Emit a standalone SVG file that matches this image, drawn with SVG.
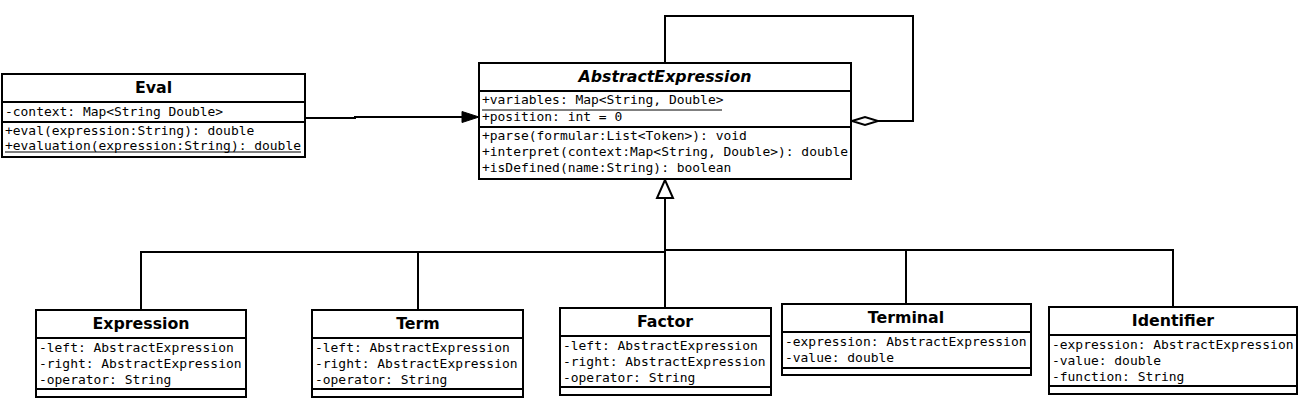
<svg xmlns="http://www.w3.org/2000/svg" width="1299" height="400" viewBox="0 0 1299 400">
<style>
.box{fill:#fff;stroke:#000;stroke-width:2}
.sep{stroke:#000;stroke-width:2}
.ul{stroke:#000;stroke-width:1}
.t{font-family:"DejaVu Sans",sans-serif;font-weight:bold;font-size:15.8px;text-anchor:middle;fill:#000}
.ti{font-style:italic}
.m{font-family:"DejaVu Sans Mono","Liberation Mono",monospace;font-size:12.95px;fill:#000}
.c{fill:none;stroke:#000;stroke-width:2}
</style>
<rect width="1299" height="400" fill="#fff"/>
<g id="connectors">
  <polyline class="c" points="305,118 355,118 355,117 463,117"/>
  <polygon points="479,117 462,111.5 462,122.5" fill="#000" stroke="#000" stroke-width="1"/>
  <polyline class="c" points="665,63 665,16 913,16 913,121 878,121"/>
  <polygon points="852,121 865,117 878,121 865,125" fill="#fff" stroke="#000" stroke-width="2"/>
  <line class="c" x1="665" y1="198" x2="665" y2="308"/>
  <polyline class="c" points="141,310 141,252 665,252"/>
  <line class="c" x1="418" y1="252" x2="418" y2="310"/>
  <polyline class="c" points="665,250 1173,250 1173,307"/>
  <line class="c" x1="906" y1="250" x2="906" y2="304"/>
  <polygon points="665,180 657,198 673,198" fill="#fff" stroke="#000" stroke-width="2"/>
</g>
<g id="Eval">
  <rect class="box" x="2" y="74" width="303" height="83"/>
  <line class="sep" x1="2" y1="102" x2="305" y2="102"/>
  <line class="sep" x1="2" y1="122" x2="305" y2="122"/>
  <text class="t" x="153.5" y="93">Eval</text>
  <text class="m" x="5" y="116">-context: Map&lt;String Double&gt;</text>
  <text class="m" x="5" y="135">+eval(expression:String): double</text>
  <text class="m" x="5" y="150">+evaluation(expression:String): double</text>
  <line class="ul" x1="5" y1="152" x2="301" y2="152"/>
</g>
<g id="AbstractExpression">
  <rect class="box" x="479" y="63" width="372" height="116"/>
  <line class="sep" x1="479" y1="91" x2="851" y2="91"/>
  <line class="sep" x1="479" y1="127" x2="851" y2="127"/>
  <text class="t ti" x="665" y="82">AbstractExpression</text>
  <text class="m" x="482" y="104">+variables: Map&lt;String, Double&gt;</text>
  <line class="ul" x1="482" y1="110" x2="722" y2="110"/>
  <text class="m" x="482" y="121">+position: int = 0</text>
  <text class="m" x="482" y="140">+parse(formular:List&lt;Token&gt;): void</text>
  <text class="m" x="482" y="156">+interpret(context:Map&lt;String, Double&gt;): double</text>
  <text class="m" x="482" y="172">+isDefined(name:String): boolean</text>
</g>
<g id="Expression">
  <rect class="box" x="36" y="310" width="210" height="87"/>
  <line class="sep" x1="36" y1="338" x2="246" y2="338"/>
  <line class="sep" x1="36" y1="389" x2="246" y2="389"/>
  <text class="t" x="141" y="329">Expression</text>
  <text class="m" x="39" y="352">-left: AbstractExpression</text>
  <text class="m" x="39" y="368">-right: AbstractExpression</text>
  <text class="m" x="39" y="384">-operator: String</text>
</g>
<g id="Term">
  <rect class="box" x="312" y="310" width="211" height="87"/>
  <line class="sep" x1="312" y1="338" x2="523" y2="338"/>
  <line class="sep" x1="312" y1="389" x2="523" y2="389"/>
  <text class="t" x="418" y="329">Term</text>
  <text class="m" x="315" y="352">-left: AbstractExpression</text>
  <text class="m" x="315" y="368">-right: AbstractExpression</text>
  <text class="m" x="315" y="384">-operator: String</text>
</g>
<g id="Factor">
  <rect class="box" x="560" y="308" width="211" height="87"/>
  <line class="sep" x1="560" y1="336" x2="771" y2="336"/>
  <line class="sep" x1="560" y1="387" x2="771" y2="387"/>
  <text class="t" x="665" y="327">Factor</text>
  <text class="m" x="563" y="350">-left: AbstractExpression</text>
  <text class="m" x="563" y="366">-right: AbstractExpression</text>
  <text class="m" x="563" y="382">-operator: String</text>
</g>
<g id="Terminal">
  <rect class="box" x="782" y="304" width="249" height="71"/>
  <line class="sep" x1="782" y1="332" x2="1031" y2="332"/>
  <line class="sep" x1="782" y1="368" x2="1031" y2="368"/>
  <text class="t" x="906" y="323">Terminal</text>
  <text class="m" x="785" y="346">-expression: AbstractExpression</text>
  <text class="m" x="785" y="362">-value: double</text>
</g>
<g id="Identifier">
  <rect class="box" x="1049" y="307" width="248" height="87"/>
  <line class="sep" x1="1049" y1="335" x2="1297" y2="335"/>
  <line class="sep" x1="1049" y1="386" x2="1297" y2="386"/>
  <text class="t" x="1173" y="326">Identifier</text>
  <text class="m" x="1052" y="349">-expression: AbstractExpression</text>
  <text class="m" x="1052" y="365">-value: double</text>
  <text class="m" x="1052" y="381">-function: String</text>
</g>
</svg>
